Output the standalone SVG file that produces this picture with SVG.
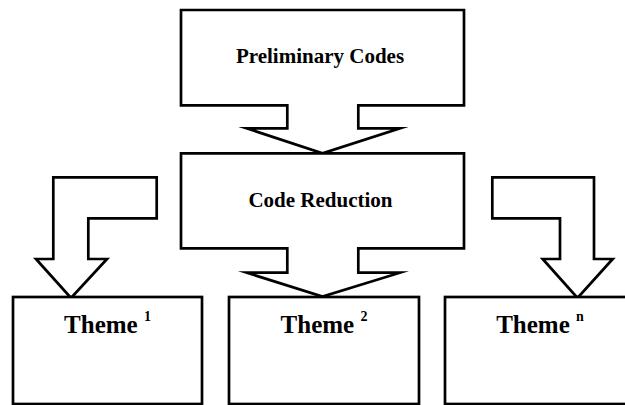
<svg xmlns="http://www.w3.org/2000/svg" width="625" height="405" viewBox="0 0 625 405">
  <style>
    .shape { fill: #ffffff; stroke: #000000; stroke-width: 2.7; stroke-linejoin: miter; stroke-miterlimit: 10; }
    .label { font-family: 'Liberation Serif', 'DejaVu Serif', serif; font-weight: bold; fill: #000000; text-anchor: middle; }
    .title { font-size: 21px; }
    .theme { font-size: 25px; }
    .sup { font-size: 14px; }
  </style>
  <rect width="625" height="405" fill="#ffffff"/>

  <!-- Block callouts: box with a down-pointing arrow underneath -->
  <g id="preliminary-codes">
    <polygon class="shape" points="181,10 464,10 464,105.3 358.3,105.3 358.3,128.3 400,128.3 322.5,153.3 246.7,128.3 287.3,128.3 287.3,105.3 181,105.3"/>
    <text class="label title" font-family="Liberation Serif, serif" x="320" y="63">Preliminary Codes</text>
  </g>

  <g id="code-reduction">
    <polygon class="shape" points="181,153.3 464,153.3 464,248.3 358.3,248.3 358.3,272.7 400,272.7 322.5,296.5 246.7,272.7 287.3,272.7 287.3,248.3 181,248.3"/>
    <text class="label title" font-family="Liberation Serif, serif" x="320.5" y="207">Code Reduction</text>
  </g>

  <!-- Bent block arrows feeding the outer themes -->
  <g id="connectors">
    <polygon class="shape" points="156.7,177.3 53.3,177.3 53.3,259 36,259 71,298 107,259 88.3,259 88.3,218.3 156.7,218.3"/>
    <polygon class="shape" points="492.3,177.3 594,177.3 594,259 612.7,259 577.5,298 542.7,259 560,259 560,218.3 492.3,218.3"/>
  </g>

  <g id="theme-1">
    <rect class="shape" x="13" y="297" width="189" height="107"/>
    <text class="label theme" font-family="Liberation Serif, serif" x="107.5" y="333">Theme <tspan class="sup" dy="-12">1</tspan></text>
  </g>

  <g id="theme-2">
    <rect class="shape" x="229" y="297" width="190" height="107"/>
    <text class="label theme" font-family="Liberation Serif, serif" x="324" y="333">Theme <tspan class="sup" dy="-12">2</tspan></text>
  </g>

  <g id="theme-n">
    <rect class="shape" x="445" y="297" width="190" height="107"/>
    <text class="label theme" font-family="Liberation Serif, serif" x="540" y="333">Theme <tspan class="sup" dy="-12">n</tspan></text>
  </g>
</svg>
